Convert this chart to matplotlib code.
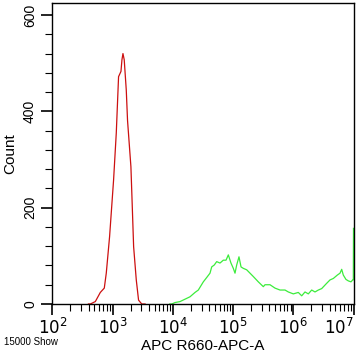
import numpy as np
import matplotlib
matplotlib.use("Agg")
import matplotlib.pyplot as plt
from matplotlib.ticker import FixedLocator, NullFormatter, LogLocator

plt.rcParams['font.family'] = ['Liberation Sans Narrow', 'Liberation Sans', 'DejaVu Sans']

# Red histogram (log10 of APC-A, count)
red_log = [2.60, 2.631, 2.714, 2.797, 2.863, 2.896, 2.951, 3.017, 3.062, 3.100, 3.140,
           3.156, 3.173, 3.194, 3.228, 3.249, 3.305, 3.322, 3.350, 3.394, 3.432, 3.485, 3.540]
red_cnt = [0, 0, 5, 24, 33, 64, 140, 257, 355, 472, 483,
           507, 520, 507, 444, 381, 285, 223, 119, 50, 8, 0, 0]

# Green histogram (log10 of APC-A, count)
green_log = [3.95, 3.982, 4.037, 4.120, 4.203, 4.286, 4.369, 4.424, 4.507, 4.563, 4.618,
             4.646, 4.689, 4.729, 4.784, 4.839, 4.884, 4.922, 4.966, 5.005, 5.033,
             5.061, 5.099, 5.133, 5.171, 5.227, 5.282, 5.337, 5.420, 5.503, 5.531,
             5.614, 5.697, 5.780, 5.863, 5.918, 6.001, 6.084, 6.140, 6.195, 6.250,
             6.306, 6.361, 6.416, 6.472, 6.555, 6.610, 6.665, 6.731, 6.776, 6.804,
             6.831, 6.875, 6.914, 6.958, 6.987, 6.997, 7.0]
green_cnt = [0, 0, 3, 5, 10, 15, 24, 29, 46, 55, 64,
             77, 81, 88, 85, 91, 91, 102, 85, 74, 64,
             81, 98, 77, 74, 71, 64, 57, 46, 36, 40,
             40, 33, 29, 29, 25, 21, 24, 17, 25, 21,
             29, 25, 29, 32, 43, 50, 53, 60, 64, 72,
             60, 51, 48, 46, 50, 50, 157]

y_major = [0, 200, 400, 600]
x_major_exp = [2, 3, 4, 5, 6, 7]

fig = plt.figure(figsize=(3.62, 3.55), dpi=100)
ax = fig.add_axes([52.3 / 362, 1 - 304 / 355, (353.5 - 52.3) / 362, (304 - 3) / 355])

ax.plot(10 ** np.array(red_log), red_cnt, color='#cc1010', lw=0.9)
ax.plot(10 ** np.array(green_log), green_cnt, color='#3cec3c', lw=0.9)

ax.set_xscale('log')
ax.set_xlim(1e2, 1e7)
ax.set_ylim(0, 625)

ax.xaxis.set_major_locator(FixedLocator([10.0 ** e for e in x_major_exp]))
labels = ax.set_xticklabels([r'$10^{%d}$' % e for e in x_major_exp], fontsize=12,
                            family='DejaVu Sans')
labels[-1].set_horizontalalignment('right')
ax.xaxis.set_minor_locator(LogLocator(base=10, subs=np.arange(2, 10)))
ax.xaxis.set_minor_formatter(NullFormatter())

ax.yaxis.set_major_locator(FixedLocator(y_major))
ax.set_yticklabels([str(v) for v in y_major], rotation=90, va='center', fontsize=10)
ax.yaxis.set_minor_locator(FixedLocator(list(range(0, 625, 40))))

ax.tick_params(axis='both', which='major', direction='out', length=8, width=1.2,
               colors='black', pad=3)
ax.tick_params(axis='both', which='minor', direction='out', length=5, width=0.8)
ax.tick_params(axis='x', which='major', pad=2)

for s in ax.spines.values():
    s.set_linewidth(1.0)
    s.set_color('black')

ax.set_ylabel('Count', fontsize=11, labelpad=4)
ax.set_xlabel('APC R660-APC-A', fontsize=11, labelpad=1)
fig.text(4 / 362, 1 - 342 / 355, '15000 Show', fontsize=7, va='center', ha='left')

fig.savefig('out.png', dpi=100)
